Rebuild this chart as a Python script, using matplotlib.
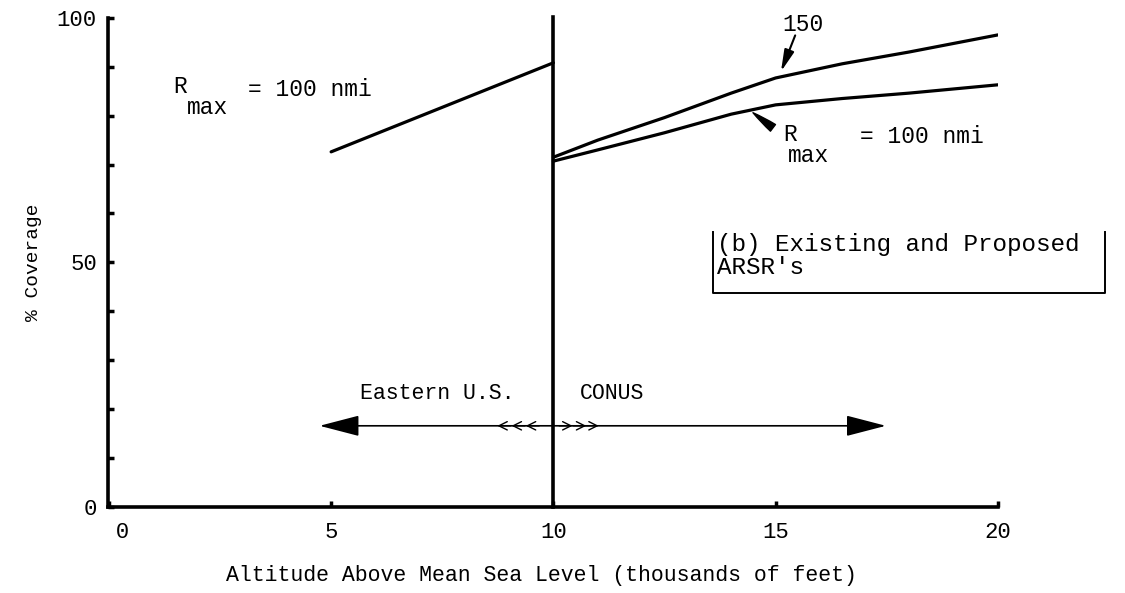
import numpy as np
import matplotlib.pyplot as plt

# coverage curves (altitude in thousands of feet, % coverage)
alt_east = [5.0, 10.0]
cov_east = [72.6, 90.8]

alt_conus = [10.0, 11.0, 12.5, 14.0, 15.0, 16.5, 18.0, 20.0]
cov_150 = [71.5, 75.0, 79.6, 84.6, 87.7, 90.6, 93.0, 96.5]
cov_100 = [70.7, 73.0, 76.5, 80.3, 82.2, 83.5, 84.6, 86.3]

xticks = [0, 5, 10, 15, 20]
yticks_major = [0, 50, 100]
yticks_minor = list(range(0, 101, 10))

fnt = 'Liberation Mono'
plt.rcParams['font.family'] = [fnt, 'DejaVu Sans Mono']

fig = plt.figure(figsize=(11.25, 5.93), dpi=100)
ax = fig.add_axes([0.096, 0.145, 0.791, 0.825])

lw = 2.3
ax.plot(alt_east, cov_east, color='k', lw=lw, solid_capstyle='round')
ax.plot(alt_conus, cov_150, color='k', lw=lw, solid_capstyle='round')
ax.plot(alt_conus, cov_100, color='k', lw=lw, solid_capstyle='round')
ax.plot([10, 10], [0, 100.2], color='k', lw=2.6, clip_on=False)

ax.set_xlim(-0.02, 20)
ax.set_ylim(0, 100)
ax.spines['top'].set_visible(False)
ax.spines['right'].set_visible(False)
for s in ['left', 'bottom']:
    ax.spines[s].set_linewidth(2.6)

ax.set_xticks(xticks)
ax.set_yticks(yticks_major)
ax.set_yticks(yticks_minor, minor=True)
ax.tick_params(which='both', direction='in', length=4, width=2.5)
ax.tick_params(axis='x', labelsize=16, pad=11)
ax.tick_params(axis='y', labelsize=16, pad=8)
ax.set_xticklabels(['  0', '5', '10', '15', '20'])

ax.set_xlabel('Altitude Above Mean Sea Level (thousands of feet)', fontsize=15.5)
ax.xaxis.set_label_coords(0.487, -0.118)
ax.set_ylabel('% Coverage', fontsize=14)
ax.yaxis.set_label_coords(-0.074, 0.5)

# R_max labels
fs = 16.5
ax.text(1.44, 85.9, 'R', fontsize=fs, va='center')
ax.text(1.75, 81.6, 'max', fontsize=fs, va='center')
ax.text(3.12, 85.3, '= 100 nmi', fontsize=fs, va='center')

ax.text(15.17, 76.1, 'R', fontsize=fs, va='center')
ax.text(15.28, 71.9, 'max', fontsize=fs, va='center')
ax.text(16.9, 75.7, '= 100 nmi', fontsize=fs, va='center', clip_on=False)
ax.annotate('', xy=(14.49, 80.6), xytext=(14.94, 77.5),
            arrowprops=dict(arrowstyle='wedge,tail_width=0.6,shrink_factor=0.6',
                            fc='k', ec='k', shrinkA=0, shrinkB=0))

ax.text(15.15, 98.6, '150', fontsize=fs, va='center')
ax.annotate('', xy=(15.12, 89.0), xytext=(15.44, 96.4),
            arrowprops=dict(arrowstyle='-|>,head_length=1.3,head_width=0.3',
                            fc='k', ec='k', lw=1.5, shrinkA=0, shrinkB=0))

# box label
ax.text(13.69, 53.6, "(b) Existing and Proposed", fontsize=17.5,
        va='center', clip_on=False)
ax.text(13.69, 48.9, "ARSR's", fontsize=17.5, va='center', clip_on=False)
ax.plot([13.6, 13.6, 22.4, 22.4], [56.2, 43.8, 43.8, 56.2], color='k', lw=1.4, clip_on=False)

# region arrow
ya = 16.6
ax.text(5.64, 23.3, 'Eastern U.S.', fontsize=15.5, va='center')
ax.text(10.6, 23.3, 'CONUS', fontsize=15.5, va='center')
ax.annotate('', xy=(4.74, ya), xytext=(10, ya),
            arrowprops=dict(arrowstyle='-|>,head_length=2.5,head_width=0.65',
                            fc='k', ec='k', lw=1.2, shrinkA=0, shrinkB=0))
ax.annotate('', xy=(17.48, ya), xytext=(10, ya),
            arrowprops=dict(arrowstyle='-|>,head_length=2.5,head_width=0.65',
                            fc='k', ec='k', lw=1.2, shrinkA=0, shrinkB=0))
for xc in [8.74, 9.06, 9.38]:
    ax.annotate('', xy=(xc, ya), xytext=(xc + 0.3, ya),
                arrowprops=dict(arrowstyle='->,head_length=0.6,head_width=0.3',
                                color='k', lw=1.0, shrinkA=0, shrinkB=0))
for xc in [10.43, 10.74, 11.02]:
    ax.annotate('', xy=(xc, ya), xytext=(xc - 0.3, ya),
                arrowprops=dict(arrowstyle='->,head_length=0.6,head_width=0.3',
                                color='k', lw=1.0, shrinkA=0, shrinkB=0))

fig.savefig('out.png', dpi=100)
